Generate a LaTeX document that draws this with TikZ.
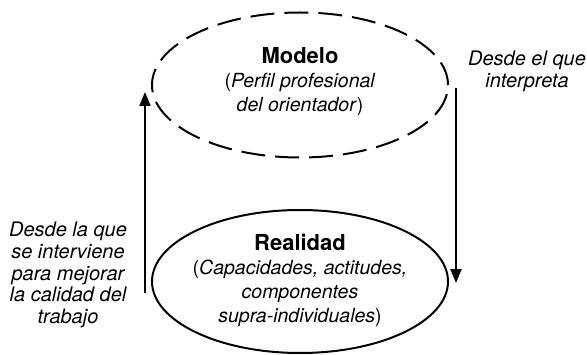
\documentclass[tikz,border=0pt]{standalone}
\usepackage{fontspec}
\setmainfont{TeX Gyre Heros}
\usetikzlibrary{shapes.geometric,arrows.meta}

\begin{document}
\begin{tikzpicture}[x=1pt,y=1pt,
        ovalo/.style={draw, ellipse, line width=2pt, minimum width=296pt, inner sep=0pt},
        texto/.style={align=center, font=\fontsize{19.5}{24}\selectfont},
        lado/.style={align=center, font=\fontsize{20}{21.7}\selectfont\itshape},
        flecha/.style={line width=2pt, -{Triangle[width=11pt,length=14pt]}}]
        \useasboundingbox (0,0) rectangle (587,354);

        % Upper (dashed) and lower ellipse
        \node[ovalo, minimum height=145pt, dash pattern=on 24pt off 10pt] (modelo) at (300,269) {};
        \node[ovalo, minimum height=143pt] (realidad) at (300,72.5) {};

        % Labeling Ellipses
        \node[texto, yshift=3pt] (modeloTxt) at (modelo.center)
            {{\fontsize{22}{24}\selectfont\bfseries Modelo}\\(\textit{Perfil profesional}\\\textit{del orientador})};
        \node[texto, yshift=1pt] (realidadTxt) at (realidad.center)
            {{\fontsize{22}{24}\selectfont\bfseries Realidad}\\(\textit{Capacidades, actitudes,}\\\textit{componentes}\\\textit{supra-individuales})};

        % Side labels
        \node[lado] (interviene) at (68,79) {Desde la que\\se interviene\\para mejorar\\la calidad del\\trabajo};
        \node[lado] (interpreta) at (527,283) {Desde el que\\interpreta};

        % Arrows
        \coordinate (subeIni) at (145,61);
        \coordinate (subeFin) at (145,262);
        \coordinate (bajaIni) at (456,266);
        \coordinate (bajaFin) at (456,71);
        \draw[flecha] (subeIni) -- (subeFin);
        \draw[flecha] (bajaIni) -- (bajaFin);

    \end{tikzpicture}
\end{document}
